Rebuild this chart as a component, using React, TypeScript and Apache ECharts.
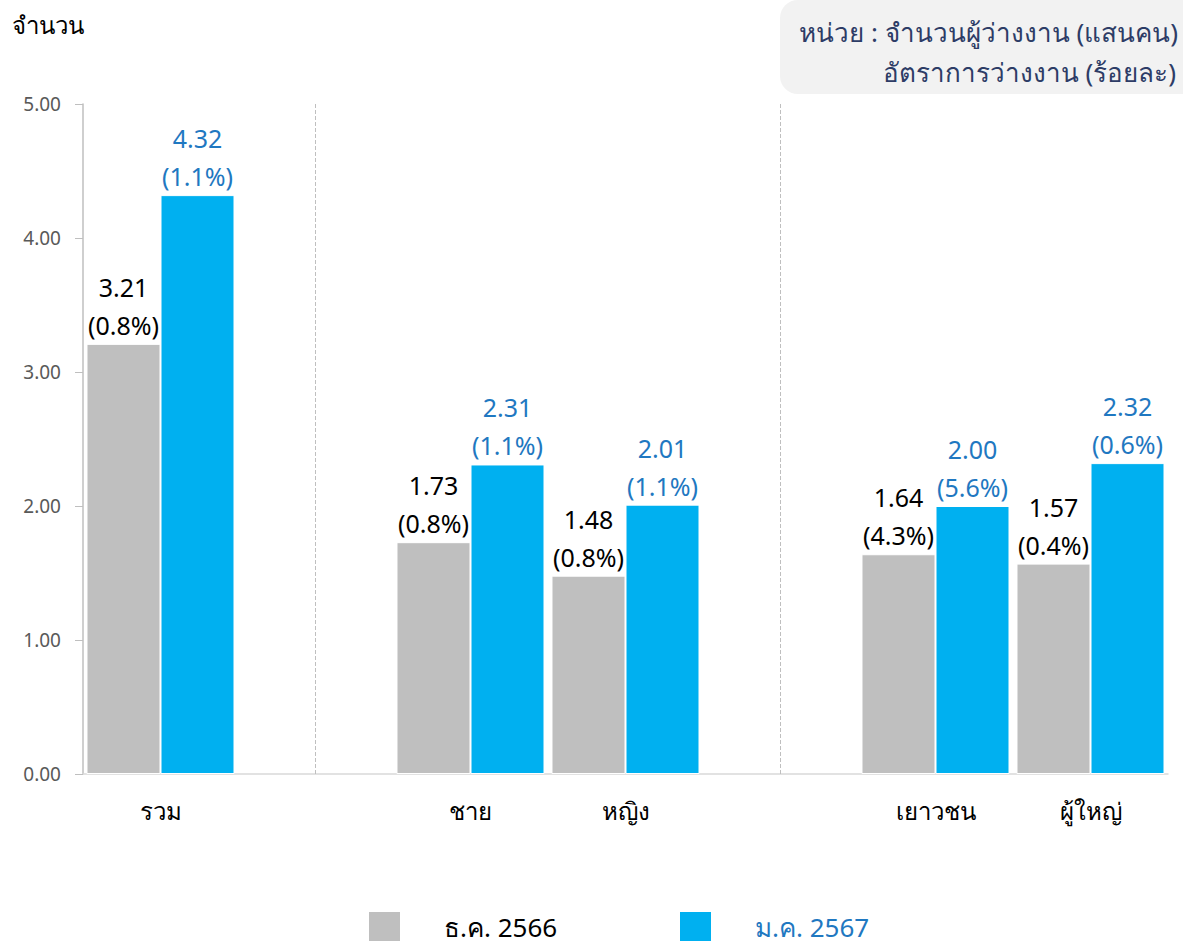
import React, { useEffect, useRef } from "react";
import * as echarts from "echarts";

const categories = ["รวม", "", "ชาย", "หญิง", "", "เยาวชน", "ผู้ใหญ่"];
const decValues: (number | null)[] = [3.21, null, 1.73, 1.48, null, 1.64, 1.57];
const decRates: (string | null)[] = ["0.8", null, "0.8", "0.8", null, "4.3", "0.4"];
const janValues: (number | null)[] = [4.32, null, 2.31, 2.01, null, 2.0, 2.32];
const janRates: (string | null)[] = ["1.1", null, "1.1", "1.1", null, "5.6", "0.6"];
const seriesNames = ["ธ.ค. 2566", "ม.ค. 2567"];
const separatorIndexes = [1, 4];
const yTicks = [0, 1, 2, 3, 4, 5];

const FONT = "'Noto Sans', 'Open Sans', sans-serif";
const GRAY = "#bfbfbf";
const BLUE = "#00b0f0";
const BLUE_TEXT = "#1f78c1";

export default function App() {
  const ref = useRef<HTMLDivElement>(null);
  useEffect(() => {
    if (!ref.current) return;
    const chart = echarts.init(ref.current, null, { renderer: "svg" });
    const mkData = (vals: (number | null)[], rates: (string | null)[]) =>
      vals.map((v, i) => (v == null ? null : { value: v, rate: rates[i] }));
    const labelFmt = (p: any) => `${p.value.toFixed(2)}\n(${p.data.rate}%)`;
    const barLabel = (color: string) => ({
      show: true,
      position: "top",
      distance: 0,
      color,
      fontSize: 25,
      lineHeight: 38,
      fontFamily: FONT,
      formatter: labelFmt,
    });
    const legendBase = {
      top: 910,
      padding: 0,
      itemWidth: 33,
      itemHeight: 31,
      icon: "rect",
    };
    chart.setOption({
      animation: false,
      textStyle: { fontFamily: FONT },
      grid: { left: 83, right: 15, top: 104, bottom: 170, containLabel: false },
      xAxis: {
        type: "category",
        data: categories,
        axisTick: { show: false },
        axisLine: { lineStyle: { color: "#d9d9d9", width: 1.5 } },
        axisLabel: { color: "#000", fontSize: 24, margin: 24, fontFamily: FONT, interval: 0 },
      },
      yAxis: {
        type: "value",
        min: yTicks[0],
        max: yTicks[yTicks.length - 1],
        interval: 1,
        splitLine: { show: false },
        axisLine: { show: true, lineStyle: { color: "#bfbfbf", width: 1.5 } },
        axisTick: { show: true, length: 8, lineStyle: { color: "#bfbfbf" } },
        axisLabel: {
          color: "#595959",
          fontSize: 19,
          margin: 22,
          fontFamily: FONT,
          formatter: (v: number) => v.toFixed(2),
        },
      },
      legend: [
        {
          ...legendBase,
          data: [seriesNames[0]],
          left: 367,
          textStyle: { color: "#000", fontSize: 26, fontFamily: FONT, padding: [0, 0, 0, 38] },
        },
        {
          ...legendBase,
          data: [seriesNames[1]],
          left: 678,
          textStyle: { color: BLUE_TEXT, fontSize: 26, fontFamily: FONT, padding: [0, 0, 0, 38] },
        },
      ],
      series: [
        {
          name: seriesNames[0],
          type: "bar",
          data: mkData(decValues, decRates),
          barGap: "0%",
          barCategoryGap: "4.5%",
          itemStyle: { color: GRAY, borderColor: "#fff", borderWidth: 1 },
          label: barLabel("#000"),
        },
        {
          name: seriesNames[1],
          type: "bar",
          data: mkData(janValues, janRates),
          barGap: "0%",
          barCategoryGap: "4.5%",
          itemStyle: { color: BLUE, borderColor: "#fff", borderWidth: 1 },
          label: barLabel(BLUE_TEXT),
        },
        {
          name: "separators",
          type: "line",
          data: categories.map(() => null),
          symbol: "none",
          silent: true,
          markLine: {
            silent: true,
            symbol: "none",
            label: { show: false },
            lineStyle: { color: "#bfbfbf", type: "dashed", width: 1 },
            data: separatorIndexes.map((i) => ({ xAxis: i })),
          },
        },
      ],
      graphic: [
        {
          type: "text",
          left: 12,
          top: 12,
          style: { text: "จำนวน", fill: "#000", font: `24px ${FONT}` },
        },
        {
          type: "rect",
          shape: { x: 780, y: 0, width: 430, height: 94, r: 18 },
          style: { fill: "#f2f2f2" },
          z: 0,
        },
        {
          type: "text",
          x: 1178,
          y: 32,
          style: {
            text: "หน่วย : จำนวนผู้ว่างงาน (แสนคน)",
            fill: "#2d3c66",
            font: `26px ${FONT}`,
            align: "right",
            verticalAlign: "middle",
          },
          z: 1,
        },
        {
          type: "text",
          x: 1176,
          y: 72,
          style: {
            text: "อัตราการว่างงาน (ร้อยละ)",
            fill: "#2d3c66",
            font: `26px ${FONT}`,
            align: "right",
            verticalAlign: "middle",
          },
          z: 1,
        },
      ],
    });
    return () => chart.dispose();
  }, []);
  return (
    <div
      ref={ref}
      style={{ position: "fixed", left: 0, top: 0, width: 1183, height: 944, background: "#fff" }}
    />
  );
}
